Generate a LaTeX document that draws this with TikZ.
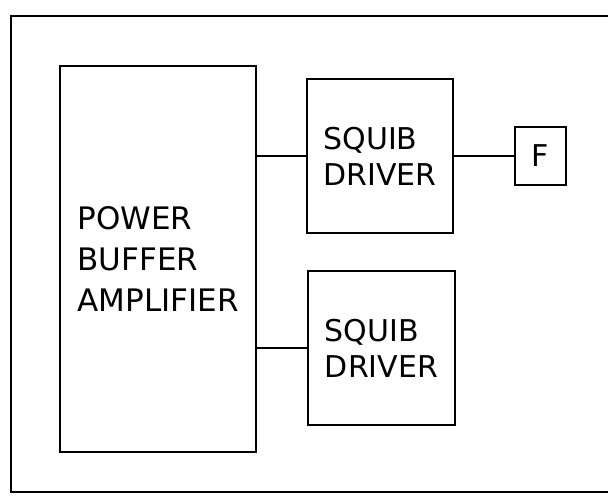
\documentclass[tikz,border=0pt]{standalone}
\usepackage{fontspec}
\setmainfont{DejaVu Sans}
\usetikzlibrary{positioning}

\begin{document}
\begin{tikzpicture}[x=1pt, y=-1pt, line width=1.8pt, every node/.style={font=\fontsize{30}{36}\selectfont}, blk/.style={draw, inner sep=0pt, align=left}]
	\useasboundingbox (0,0) rectangle (608,498);
	% outer frame (open on the right)
	\draw (608,16) -- (11,16) -- (11,492) -- (608,492);
	\node[blk, minimum width=196pt, minimum height=386pt, font=\fontsize{31}{41}\selectfont] (pba) at (158,259) {POWER\\BUFFER\\AMPLIFIER};
	\node[blk, minimum width=146pt, minimum height=154pt] (sq1) at (380,156) {SQUIB\\DRIVER};
	\node[blk, minimum width=147pt, minimum height=154pt] (sq2) at (381.5,348) {SQUIB\\DRIVER};
	\node[blk, minimum width=51pt, minimum height=58pt] (fuse) at (540.5,156) {F};
	\draw (sq1.west) -- (sq1.west -| pba.east);
	\draw (sq2.west) -- (sq2.west -| pba.east);
	\draw (sq1.east) -- (fuse.west);
\end{tikzpicture}
\end{document}
